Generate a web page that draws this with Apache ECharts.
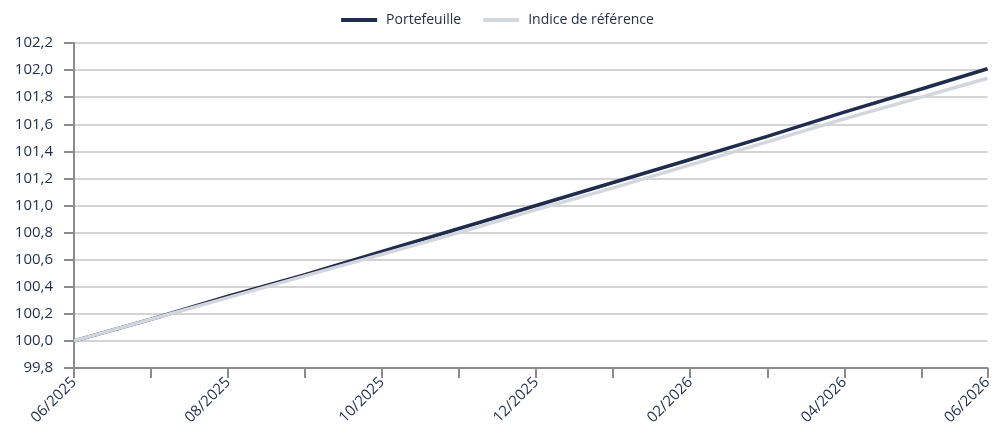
<!DOCTYPE html>
<html>
<head>
<meta charset="utf-8">
<script src="https://cdn.jsdelivr.net/npm/echarts@6/dist/echarts.min.js"></script>
<style>html,body{margin:0;padding:0;background:#fff}#c{width:995px;height:447px}</style>
</head>
<body>
<div id="c"></div>
<script>
// x positions in months since 06/2025 (last point is the final observation date, late May 2026)
const monthPos = [0,1,2,3,4,5,6,7,8,9,10,11,11.86];
const portefeuille = [100.00,100.16,100.33,100.49,100.66,100.83,101.00,101.17,101.34,101.51,101.69,101.86,102.01];
const indice = [100.00,100.16,100.32,100.48,100.64,100.80,100.97,101.13,101.30,101.47,101.64,101.80,101.94];
const xLabels = ['06/2025','08/2025','10/2025','12/2025','02/2026','04/2026','06/2026'];
const xLabelPos = [0,2,4,6,8,10,11.86];
const seriesNames = ['Portefeuille','Indice de référence'];
const yMin = 99.8, yMax = 102.2, yStep = 0.2;

const chart = echarts.init(document.getElementById('c'), null, {renderer:'canvas'});
const txt = '#1f2d4d';
chart.setOption({
  animation:false,
  textStyle:{fontFamily:'Open Sans'},
  legend:{
    top:8, left:'center', itemWidth:36, itemHeight:4, itemGap:22,
    icon:'rect',
    textStyle:{color:'#263043', fontSize:14, fontFamily:'Open Sans', padding:[0,0,0,4]},
    data:seriesNames
  },
  grid:{left:74, right:2, top:43, bottom:79, containLabel:false},
  xAxis:{
    type:'value', min:monthPos[0], max:monthPos[monthPos.length-1],
    axisLine:{show:true, onZero:false, lineStyle:{color:'#8c8c8c', width:2}},
    axisTick:{show:true, customValues:monthPos, length:10, lineStyle:{color:'#8c8c8c', width:2}},
    axisLabel:{customValues:xLabelPos, showMinLabel:true, showMaxLabel:true, rotate:45, color:txt, fontSize:15, margin:12, fontFamily:'Open Sans',
      formatter:v=>{const i=xLabelPos.indexOf(v); return i>=0?xLabels[i]:'';}},
    splitLine:{show:false}
  },
  yAxis:{
    type:'value', min:yMin, max:yMax, interval:yStep,
    axisLine:{show:true, lineStyle:{color:'#8c8c8c', width:2}},
    axisTick:{show:true, length:10, inside:false, lineStyle:{color:'#8c8c8c', width:2}},
    axisLabel:{color:txt, fontSize:15, margin:21, fontFamily:'Open Sans',
      formatter:v=>v.toFixed(1).replace('.',',')},
    splitLine:{show:true, lineStyle:{color:'#d4d4d4', width:2}}
  },
  series:[
    {name:seriesNames[0], type:'line', data:monthPos.map((x,i)=>[x,portefeuille[i]]), symbol:'none', lineStyle:{color:'#1e2c4e', width:3.5}, itemStyle:{color:'#1e2c4e'}},
    {name:seriesNames[1], type:'line', data:monthPos.map((x,i)=>[x,indice[i]]), symbol:'none', lineStyle:{color:'#d3d6dd', width:3.5}, itemStyle:{color:'#d3d6dd'}}
  ]
});
</script>
</body>
</html>
